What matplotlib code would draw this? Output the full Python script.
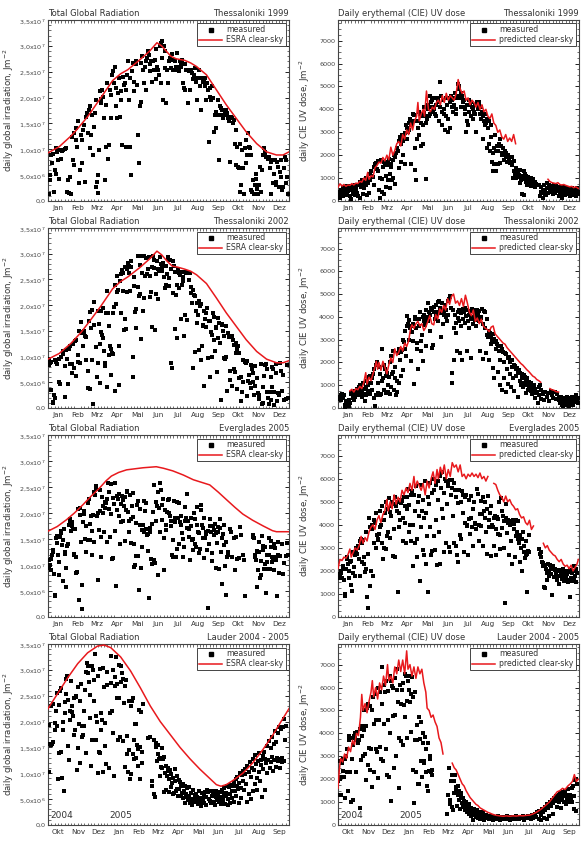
import numpy as np
import matplotlib
matplotlib.use("Agg")
import matplotlib.pyplot as plt
from matplotlib.lines import Line2D
from matplotlib.ticker import MultipleLocator, FixedLocator

plt.rcParams['font.family'] = ['DejaVu Sans']

# ---------------- month axes ----------------
months_cal = ['Jan', 'Feb', 'Mrz', 'Apr', 'Mai', 'Jun', 'Jul', 'Aug', 'Sep', 'Okt', 'Nov', 'Dez']
month_starts_cal = [0, 31, 59, 90, 120, 151, 181, 212, 243, 273, 304, 334, 365]
months_lauder = ['Okt', 'Nov', 'Dez', 'Jan', 'Feb', 'Mrz', 'Apr', 'Mai', 'Jun', 'Jul', 'Aug', 'Sep']
month_starts_lauder = [0, 31, 61, 92, 123, 151, 182, 212, 243, 273, 304, 335, 365]

# ---------------- Thessaloniki 1999, global (1e6 J/m2) ----------------
glob_ths99_meas = [
(1.5,1.4),(2.5,5.0),(3.5,4.0),(5,8.9),(6.5,7.3),(7.6,9.1),(9,1.7),(10,6.0),(11.6,5.3),(12.6,10.2),(13.6,9.5),(15,7.9),(16.7,4.3),(17.7,9.8),(19,8.2),(21,9.7),(22.7,9.8),(25,10.0),(27.8,10.2),
(29,1.7),(30,4.0),(31.8,1.6),(33.8,4.7),(35,1.4),(37,12.4),(38,7.9),(39,13.2),(40,6.9),(42,11.8),(43,14.1),(44.4,10.5),(46,15.4),(47,3.4),(48,6.0),(49.5,12.8),(51,11.8),(52,7.3),(53,13.7),(54.5,14.7),(55.5,3.7),
(58,16.3),(59.6,17.0),(60.6,13.1),(62,17.6),(63,18.4),(64,10.2),(65.7,12.8),(67,16.7),(68,8.9),(69.7,14.4),(70.7,17.0),(72.2,19.6),(73.2,2.7),(74,3.7),(75,5.0),(75.8,1.6),(77,9.8),(78,21.2),(79.8,18.9),(80.8,19.7),(82.3,21.5),(83,20.2),(84.8,16.0),(85.8,4.0),(87.4,10.5),(88.4,18.6),(89.4,22.8),(91,8.2),
(92.4,10.8),(93.4,21.5),(95,20.5),(96,16.0),(97.5,24.4),(98.5,25.1),(100,22.8),(101,26.0),(102.5,21.8),(103.5,18.3),(104.5,16.0),(106,20.9),(107,23.8),(108.6,16.3),(110,19.6),(111,21.2),(112.6,10.8),(113.6,24.0),(114.6,22.5),(116,22.8),(117.7,10.5),(118.7,21.5),(120,24.4),(121,27.0),
(122.7,19.6),(124,10.5),(124.7,23.8),(126,5.0),(127,25.1),(128.8,26.7),(130,21.2),(131,23.1),(132.8,26.4),(133.8,27.0),(135,22.5),(136.4,12.8),(138,7.3),(139,18.3),(140.4,19.2),(141.4,26.7),(143,28.0),(144,25.4),(145,22.8),(146.5,26.0),(148,21.5),(149,27.0),(150,27.7),(151.5,29.0),(153,28.3),(154,26.4),(155,25.1),(156.6,27.0),
(158,23.1),(159,27.0),(160,25.4),(161.6,27.3),(163,23.5),(164,29.3),(165,26.0),(166.6,25.4),(168,24.4),(169,29.9),(170.7,22.8),(171.7,30.6),(172.7,30.9),(173.2,27.7),(174,19.6),(175,29.9),(176.8,25.7),(177.8,29.0),(179,18.9),(180.8,25.4),(182,22.8),(183.3,27.0),(184.3,27.7),
(186,25.7),(187,27.3),(188.4,28.5),(189.4,25.4),(191,27.3),(192,27.0),(193.4,25.4),(194.4,26.0),(196,28.6),(197,26.0),(198.5,25.1),(199.5,27.0),(201,26.0),(202,26.7),(203.5,27.3),(204.5,22.8),(205.5,21.8),(207,21.5),(208,26.4),(209.6,25.4),(210.6,25.4),(212,18.9),(213.6,25.1),(214.6,21.5),(216,25.4),
(217,25.1),(218.7,24.8),(219.7,23.5),(221,24.4),(222,25.7),(223.7,23.8),(224.7,23.1),(225.7,19.6),(227,23.8),(228,25.4),(229.8,23.8),(230.8,22.2),(232.3,17.6),(233.8,23.8),(234.8,23.1),(235.8,23.5),(237.4,23.8),(238.4,22.2),(240,19.6),(241,22.8),(242.4,21.5),(243.4,11.5),(245,21.8),(246,20.2),
(247.5,19.6),(248.5,22.2),(250,19.9),(251.5,13.4),(252.5,16.7),(254,17.3),(255,14.1),(256.5,16.7),(257.5,19.6),(258.6,7.9),(260,18.3),(261,16.7),(262.6,17.9),(263.6,17.6),(265,16.0),(266,16.7),(267.7,17.3),(269,17.6),(270,16.7),(271,17.0),(272.7,16.0),(273.7,15.4),(275,16.3),
(276,7.6),(277.8,16.3),(278.8,16.0),(280,15.0),(281.8,15.7),(282.8,11.1),(284.3,13.7),(285.3,6.9),(286.3,10.5),(288,6.6),(289,6.3),(290.4,1.7),(291.4,11.1),(292.9,3.0),(294,9.8),(295.4,6.3),(297,1.4),(298,10.2),(299.5,7.3),(300.5,11.8),(302,8.9),(303,13.1),(304.5,10.5),(305.5,10.2),
(307,8.9),(308,2.1),(309.6,1.7),(310.6,4.0),(311.6,1.4),(313,3.0),(314.6,5.3),(315.6,4.3),(317,2.4),(318,1.4),(319.7,3.0),(320.7,6.6),(322,1.7),(323.7,6.0),(325.7,8.9),(327,10.2),(328,9.5),(329,9.2),(330.8,8.6),(332,8.6),(333,8.2),(334.8,8.6),
(335.8,6.3),(337,1.4),(338,7.6),(340,7.9),(341,3.4),(342.4,5.3),(343.4,7.9),(345,3.0),(346,3.7),(347,7.6),(348.5,6.6),(350,2.7),(351,5.6),(352.5,7.9),(353.5,4.7),(355,2.1),(356,2.7),(357.5,6.3),(358.6,8.6),(360,3.4),(361,7.9),(362.6,4.7),(363.6,1.4)]
glob_ths99_clear = [(0,9.3),(17,10.5),(35,12.6),(43,13.7),(60,16.3),(78,19.6),(98,23.3),(110,24.6),(121,25.4),(139,27.3),(154,29.0),(165,30.6),(172,30.0),(179,29.0),(186,28.0),(194,27.5),(207,27.2),(216,26.7),(225,26.0),(240,24.4),(255,21.5),(270,18.6),(285,16.0),(300,13.4),(316,11.1),(331,9.5),(346,8.9),(356,8.9),(365,9.5)]

# ---------------- Thessaloniki 2002, global (1e6 J/m2) ----------------
glob_ths02_meas = [
(1,8.3),(2,9.5),(3,8.7),(4,9.0),(5,3.5),(7,1.2),(8,1.0),(9,2.5),(10,2.0),(11,9.3),(12,9.0),(14,8.6),(16,9.6),(17,5.0),(18,4.7),(20,10.0),(22,11.0),(23,10.5),(25,2.2),(26,8.2),(27,11.2),(29,9.5),(30,4.6),
(32,11.5),(33,8.5),(34,12.0),(36,8.5),(37,6.8),(38,12.5),(40,7.7),(41,13.0),(42,6.3),(43,13.2),(45,10.4),(46,9.0),(47,15.0),(48,8.7),(50,16.8),(51,14.6),(52,14.8),(53,12.0),(54,14.5),(55,15.0),(56,14.0),(57,13.8),(58,9.3),
(60,7.2),(61,3.9),(62,17.0),(63,18.6),(64,3.7),(65,15.6),(66,9.3),(67,19.0),(68,0.7),(69,16.2),(70,20.7),(72,11.8),(74,6.0),(75,8.8),(76,18.8),(77,16.4),(78,12.5),(79,4.9),(80,14.8),(81,18.9),(82,14.2),(83,13.7),(84,19.4),(85,11.0),(86,8.7),(87,8.2),(88,18.5),(89,4.0),(90,22.8),
(91,18.5),(92,10.3),(93,16.0),(94,12.0),(95,11.5),(96,6.5),(97,10.7),(98,18.4),(99,10.5),(100,19.6),(101,24.0),(102,3.4),(103,20.3),(104,22.5),(105,25.6),(106,23.0),(107,4.5),(108,12.0),(109,24.6),(110,26.0),(111,18.5),(112,26.8),(113,26.2),(114,22.7),(115,15.2),(116,27.5),(117,17.3),(118,15.4),(119,27.0),(120,22.5),
(121,28.1),(122,27.7),(123,26.3),(124,22.7),(125,28.6),(126,27.5),(128,10.0),(129,6.0),(130,25.4),(131,23.8),(132,18.7),(133,19.2),(134,15.6),(136,29.5),(137,23.6),(138,21.7),(139,22.1),(140,27.8),(141,13.5),(142,29.6),(143,26.3),(144,18.9),(145,29.5),(146,21.3),(147,25.6),(148,29.2),(150,26.0),
(152,27.0),(153,29.3),(154,21.5),(155,25.7),(156,22.6),(157,27.5),(158,15.8),(159,29.5),(160,28.8),(161,27.2),(162,15.1),(163,26.0),(164,22.2),(165,28.6),(166,27.0),(167,21.2),(168,26.6),(170,29.3),(171,28.0),(172,27.4),(173,26.6),(174,28.1),(176,25.4),(177,23.4),(178,27.6),(179,24.0),(180,26.0),(181,29.3),
(182,29.0),(183,25.2),(184,23.7),(185,28.7),(186,27.0),(187,8.8),(188,7.8),(189,22.3),(190,28.6),(191,27.6),(192,26.5),(193,15.3),(194,22.0),(195,13.6),(196,24.0),(197,27.0),(198,23.3),(199,26.2),(200,25.9),(201,17.4),(202,26.5),(203,24.0),(204,25.4),(205,24.6),(206,14.0),(207,26.4),(208,18.0),(209,26.2),(210,26.5),(211,17.1),
(213,26.2),(214,24.9),(215,26.3),(216,22.3),(217,23.5),(218,20.5),(219,7.8),(220,23.0),(221,22.0),(222,10.9),(223,21.8),(224,18.8),(225,20.4),(226,16.6),(227,18.0),(228,11.3),(229,20.8),(230,19.8),(231,9.3),(232,20.3),(233,12.0),(234,16.2),(235,15.9),(236,18.9),(237,4.2),(238,17.4),(239,18.4),(240,15.8),(241,19.5),(242,9.8),
(244,17.0),(245,6.0),(246,16.9),(247,14.8),(248,10.0),(249,14.2),(250,18.5),(251,17.7),(252,13.2),(253,11.1),(254,15.8),(255,15.5),(256,7.0),(257,17.5),(258,13.7),(259,16.5),(260,12.6),(262,1.5),(263,16.3),(264,16.2),(265,15.0),(266,9.8),(267,14.0),(268,9.5),(269,16.0),(270,10.0),(271,3.3),(272,14.6),
(274,13.9),(275,5.4),(276,7.2),(277,13.8),(278,4.3),(279,14.0),(280,13.3),(281,7.5),(282,12.2),(283,7.0),(284,12.6),(285,10.7),(286,11.5),(287,3.7),(288,12.0),(289,10.6),(290,5.8),(292,6.0),(293,1.4),(294,3.2),(295,9.3),(296,5.0),(298,9.0),(300,8.8),(301,2.3),(302,9.1),(303,5.2),
(305,6.5),(306,4.8),(307,3.9),(308,8.4),(309,7.5),(310,6.9),(311,5.0),(312,2.5),(313,4.2),(314,8.2),(316,5.8),(318,3.0),(319,1.7),(320,2.6),(322,8.5),(324,0.7),(325,1.0),(326,4.0),(327,6.3),(328,8.3),(330,8.6),(331,7.5),(332,3.2),(333,2.0),
(335,0.8),(336,3.1),(337,1.5),(338,6.0),(339,4.1),(340,8.0),(341,7.6),(342,0.5),(343,3.2),(345,8.6),(346,6.9),(347,1.4),(348,3.0),(350,2.5),(352,8.8),(353,7.2),(355,3.3),(356,6.5),(358,1.5),(360,1.8),(362,8.4),(364,2.0)]
glob_ths02_clear = [(0,9.5),(17,10.6),(35,12.6),(50,14.7),(65,17.2),(80,19.8),(98,23.2),(110,24.6),(121,25.5),(139,27.3),(154,29.0),(165,30.5),(172,29.8),(180,28.6),(188,27.6),(196,27.4),(207,27.0),(216,26.6),(225,25.9),(240,24.2),(255,21.4),(270,18.5),(285,15.9),(300,13.3),(316,11.0),(331,9.5),(346,8.8),(356,8.8),(365,9.2)]

# ---------------- Everglades 2005, global (1e6 J/m2) ----------------
glob_evg05_meas = [
(1,9.5),(2,11.0),(3,10.0),(4,9.0),(5,11.2),(6,12.0),(7,12.8),(8,12.5),(9,8.2),(10,4.3),(11,4.1),(12,15.2),(13,14.3),(14,15.6),(15,12.0),(16,10.5),(17,8.0),(18,15.3),(19,16.2),(20,16.6),(21,13.8),(22,7.0),(23,14.8),(24,17.0),(25,12.5),(26,12.2),(27,9.5),(28,5.8),(29,13.6),(30,14.0),
(32,17.6),(33,18.8),(34,18.3),(35,16.5),(36,17.5),(37,18.2),(38,17.0),(39,12.0),(40,12.2),(41,16.9),(42,11.6),(43,8.5),(44,8.6),(45,20.7),(46,20.8),(47,3.3),(48,19.6),(49,21.0),(50,14.5),(51,6.2),(52,1.5),(53,18.3),(54,19.9),(55,20.4),(56,15.0),(57,17.5),(58,12.5),
(60,14.9),(61,21.9),(62,22.6),(63,14.9),(64,17.9),(65,19.5),(66,16.5),(67,11.9),(68,19.7),(69,24.0),(70,14.5),(71,23.4),(72,24.7),(73,25.2),(74,19.4),(75,7.2),(76,20.0),(77,16.8),(78,20.4),(79,24.4),(80,15.4),(81,11.6),(82,23.1),(83,21.4),(84,20.0),(85,16.4),(86,20.9),(87,22.2),(88,21.9),(89,14.5),(90,22.7),
(91,25.8),(92,20.7),(93,24.1),(94,15.4),(95,19.9),(96,25.6),(97,11.1),(98,11.4),(99,22.9),(100,21.7),(101,25.8),(102,16.6),(103,6.0),(104,20.5),(105,23.3),(106,22.6),(107,19.4),(108,23.6),(109,14.0),(110,18.3),(111,21.8),(112,23.3),(113,22.5),(114,18.4),(115,21.4),(116,23.0),(117,14.7),(118,20.6),(119,24.3),(120,24.0),
(121,20.1),(122,18.5),(123,16.4),(124,23.5),(125,14.2),(126,18.8),(127,21.3),(128,23.8),(129,19.2),(130,9.6),(131,14.0),(132,10.0),(133,11.8),(134,18.1),(135,21.6),(136,22.3),(137,11.8),(138,5.2),(139,17.6),(140,20.8),(141,9.4),(142,16.8),(143,13.5),(144,17.7),(145,22.4),(146,16.4),(147,20.3),(148,22.0),(149,17.0),(150,15.7),
(151,15.9),(152,12.6),(153,3.6),(154,17.2),(155,16.3),(156,11.1),(157,10.2),(158,17.8),(159,20.1),(160,11.0),(161,25.3),(162,10.3),(163,18.4),(164,22.2),(165,21.4),(166,8.0),(167,24.0),(168,20.9),(169,16.3),(170,25.7),(171,24.4),(172,21.5),(173,18.6),(174,22.6),(175,9.0),(176,15.2),(177,20.5),(178,16.8),(179,17.6),(180,20.1),
(182,22.5),(183,22.6),(184,20.0),(185,19.4),(186,17.5),(187,18.4),(188,12.0),(189,11.5),(190,14.8),(191,22.3),(192,19.0),(193,18.2),(194,11.5),(195,22.2),(196,13.0),(197,19.1),(198,14.0),(199,21.9),(200,18.2),(201,19.5),(202,17.6),(203,16.2),(204,15.0),(205,11.5),(206,13.5),(207,18.5),(208,21.2),(209,19.0),(210,17.2),(211,23.7),
(212,18.5),(213,15.4),(214,16.9),(215,11.0),(216,19.0),(217,17.5),(218,14.8),(219,15.0),(220,12.8),(221,20.0),(222,18.8),(223,14.0),(224,13.5),(225,17.7),(226,21.2),(227,16.4),(228,16.1),(229,12.4),(230,13.0),(231,20.6),(232,21.6),(233,17.7),(234,17.2),(235,15.1),(236,11.3),(237,19.0),(238,15.2),(239,16.0),(240,16.4),(241,12.8),
(242,1.8),(243,16.5),(244,14.1),(245,18.9),(246,17.5),(247,16.4),(248,10.8),(249,12.4),(250,17.5),(251,15.7),(252,16.8),(253,17.8),(254,9.4),(255,16.1),(256,14.2),(257,17.3),(258,16.3),(259,9.2),(260,18.8),(261,17.1),(262,12.5),(263,6.3),(264,15.1),(265,16.0),(266,13.8),(267,17.6),(268,9.8),(269,14.5),(270,4.2),(271,11.5),(272,11.9),
(273,12.5),(275,17.0),(277,16.4),(279,11.5),(281,15.1),(283,9.0),(285,15.3),(287,11.1),(289,11.4),(291,17.3),(293,15.7),(295,12.0),(297,11.0),(299,4.1),
(310,15.8),(311,15.4),(312,15.2),(313,11.6),(314,12.0),(315,11.0),(316,5.8),(317,12.7),(318,9.1),(319,12.5),(320,14.5),(321,7.5),(322,8.0),(323,10.8),(324,15.5),(325,12.8),(326,13.7),(327,9.3),(328,10.2),(329,13.5),(330,4.6),(331,12.0),(332,10.5),(333,9.3),(334,15.2),(335,11.9),(336,9.3),(337,14.6),(338,13.4),(339,11.5),(340,10.5),(341,11.2),(342,14.1),(343,9.0),(344,13.3),(345,11.0),(346,11.5),(347,4.0),(348,14.5),(349,12.0),(350,8.5),(352,11.8),(354,14.0),(356,8.3),(358,10.3),(360,11.8),(362,14.2),(364,11.9)]
glob_evg05_clear = [(0,16.5),(14,17.4),(28,18.7),(40,20.0),(53,21.6),(65,23.2),(78,24.8),(88,26.2),(96,27.1),(107,27.8),(119,28.3),(144,28.7),(164,28.9),(175,28.6),(189,28.1),(205,27.3),(220,26.4),(235,25.8),(245,25.4),(258,24.0),(270,22.6),(283,21.1),(295,19.8),(310,18.6),(326,17.5),(340,16.6),(346,16.4),(365,16.4)]

# ---------------- Lauder 2004-2005, global (1e6 J/m2), day 0 = 1 Oct 2004 ----------------
glob_lau_meas = [
(1,19.3),(2,10.3),(3,15.7),(4,15.4),(5,23.0),(6,15.6),(7,23.4),(8,16.0),(10,19.7),(11,18.3),(12,22.0),(13,19.2),(14,25.5),(15,8.9),(16,23.3),(17,13.9),(18,26.0),(19,26.5),(20,14.2),(21,9.0),(22,18.3),(23,20.0),(24,6.5),(25,21.7),(26,23.8),(27,25.3),(28,28.3),(29,28.8),(30,24.2),
(31,15.2),(32,12.5),(33,22.0),(34,20.4),(35,27.8),(36,21.8),(37,23.0),(38,21.0),(39,24.5),(40,17.5),(41,18.3),(42,24.8),(43,25.0),(44,10.7),(45,14.8),(46,26.6),(47,19.5),(48,12.0),(49,24.0),(50,27.2),(51,17.0),(52,19.2),(53,17.5),(54,22.0),(55,19.1),(56,26.1),(57,29.5),(58,14.0),(59,31.4),(60,30.8),
(61,29.4),(62,27.6),(63,20.7),(64,25.2),(65,11.5),(66,30.7),(67,16.5),(68,30.0),(69,23.9),(70,28.0),(71,33.0),(72,21.0),(73,16.5),(74,19.9),(75,28.9),(76,10.0),(77,14.2),(78,14.0),(79,30.1),(80,18.3),(81,21.6),(82,20.4),(83,10.2),(84,30.3),(85,26.7),(86,15.3),(87,19.8),(88,11.7),(89,27.0),(90,29.5),
(93,11.1),(94,21.7),(95,27.5),(96,32.7),(97,22.1),(98,29.9),(99,17.8),(100,9.4),(101,28.6),(102,26.8),(103,32.4),(104,24.5),(105,27.3),(106,16.5),(107,31.0),(108,24.5),(109,17.0),(110,27.6),(111,30.7),(112,29.3),(113,16.2),(114,28.2),(115,23.6),(116,11.2),(117,26.8),(118,28.1),(119,17.3),(120,13.7),(121,10.2),(122,24.0),
(123,14.5),(124,8.8),(125,23.0),(126,9.8),(127,23.9),(128,13.8),(129,24.5),(130,16.4),(131,12.7),(132,19.6),(133,19.5),(134,13.0),(135,15.5),(136,11.5),(137,14.6),(138,22.2),(139,8.9),(140,15.0),(141,21.8),(142,12.0),(143,14.2),(144,23.4),
(152,16.9),(155,17.0),(157,8.5),(158,7.6),(160,16.4),(161,5.9),(162,5.4),(163,15.9),(164,15.0),(165,12.3),(166,15.5),(167,13.7),(168,12.7),(169,9.4),(170,13.0),(171,11.2),(172,14.9),(173,11.0),(174,12.7),(175,6.4),(176,13.2),(177,10.0),(178,6.7),(179,11.5),(180,9.5),(181,11.0),
(182,10.5),(183,8.8),(184,6.3),(185,10.7),(186,7.4),(187,9.9),(188,8.1),(189,5.9),(190,9.0),(191,6.2),(192,8.5),(193,10.8),(194,6.5),(195,9.4),(196,6.9),(197,5.7),(198,8.7),(199,7.0),(200,8.4),(201,5.6),(202,7.5),(203,6.1),(204,5.2),(205,8.0),(206,6.6),(207,7.6),(208,4.3),(209,6.0),(210,7.2),(211,5.5),
(212,4.9),(213,7.3),(214,5.6),(215,4.2),(216,6.2),(217,5.0),(218,3.8),(219,6.7),(220,5.1),(221,4.4),(222,5.8),(223,4.8),(224,6.0),(225,4.6),(226,5.4),(227,4.0),(228,6.5),(229,5.2),(230,4.5),(231,5.0),(232,3.7),(233,6.1),(234,5.3),(235,4.7),(236,5.9),(237,4.2),(238,6.3),(239,5.5),(240,3.9),(241,6.8),
(243,6.4),(244,5.1),(245,4.6),(246,6.6),(247,4.3),(248,5.7),(249,6.5),(250,5.8),(251,4.5),(252,6.2),(253,3.8),(254,5.4),(255,6.6),(256,4.9),(257,6.0),(258,5.2),(259,4.4),(260,5.5),(261,6.4),(262,4.1),(263,5.3),(264,6.8),(265,4.8),(266,5.9),(267,7.2),(268,4.0),(269,5.6),(270,6.2),(271,7.5),(272,3.9),
(273,5.0),(274,7.3),(275,6.0),(276,4.3),(277,7.8),(278,6.5),(279,5.2),(280,7.6),(281,8.3),(282,4.4),(283,6.6),(284,8.9),(285,5.7),(286,7.5),(287,9.3),(288,6.9),(289,4.2),(290,8.2),(291,10.1),(292,7.1),(293,5.3),(294,9.7),(295,8.6),(296,10.5),(297,6.8),(298,9.9),(299,10.8),(300,8.0),(301,11.4),(302,4.4),
(304,6.0),(305,10.2),(306,12.2),(307,5.0),(308,9.3),(309,11.0),(310,6.5),(311,12.8),(312,10.6),(313,8.0),(314,13.6),(315,11.8),(316,6.7),(317,9.0),(318,12.3),(319,13.9),(320,10.3),(321,8.5),(322,11.6),(323,12.5),(324,5.5),(325,13.4),(326,10.9),(327,14.1),(328,12.8),(329,6.8),(330,12.0),(331,10.1),(332,15.3),(333,12.6),
(335,16.2),(336,11.0),(337,14.8),(338,12.2),(339,17.0),(340,13.2),(341,10.5),(342,15.6),(343,12.5),(344,18.1),(345,11.3),(346,16.0),(347,13.0),(348,12.4),(349,17.8),(350,19.0),(351,12.8),(352,11.0),(353,18.6),(354,12.2),(355,13.0),(356,18.9),(357,20.5),(358,12.3),(359,16.5),(360,19.1)]
glob_lau_clear = [(0,22.5),(15,25.5),(30,28.5),(45,31.2),(60,33.3),(75,34.6),(85,34.8),(95,34.3),(110,32.5),(125,29.8),(140,26.5),(155,23.0),(170,20.0),(185,17.5),(200,15.0),(215,12.8),(230,10.8),(245,9.0),(255,7.8),(262,7.5),(270,7.8),(280,8.6),(295,10.0),(310,12.0),(325,14.5),(340,17.3),(352,19.8),(365,22.5)]

# ---------------- UV, Thessaloniki 1999 (J/m2) ----------------
uv_ths99_meas = [
(1,250),(2,400),(3,150),(4,350),(5,480),(6,300),(7,200),(8,550),(9,400),(10,600),(11,350),(12,500),(13,280),(14,650),(15,450),(16,550),(17,600),(18,200),(19,100),(20,650),(21,500),(22,400),(23,300),(24,550),(25,700),(26,250),(27,500),(28,600),(29,350),
(31,200),(32,700),(33,850),(34,150),(35,600),(36,750),(37,900),(38,300),(39,800),(40,550),(41,850),(42,700),(43,1000),(44,250),(45,800),(46,850),(47,350),(48,1200),(49,900),(50,1300),(52,1100),(53,1050),(54,700),(55,1500),(56,1600),(57,1650),
(59,1400),(60,1750),(61,1300),(62,500),(63,1000),(64,150),(65,1800),(66,950),(67,400),(68,1500),(69,300),(70,1700),(71,1600),(72,1100),(73,600),(74,1550),(75,900),(76,1700),(77,1850),(78,550),(79,1200),(80,1500),(81,1600),(82,900),(83,1000),(84,1800),(85,2000),(86,750),(87,1900),(88,2100),
(90,2300),(91,2200),(92,1450),(93,2600),(94,2800),(95,1700),(96,2500),(97,2900),(98,2600),(99,2000),(100,2800),(101,1600),(102,2950),(103,3300),(104,3200),(105,2700),(106,3000),(107,3400),(108,3100),(109,3600),(110,3300),(111,1600),(112,3400),(113,3800),(114,3500),(115,3750),(116,2300),(117,1350),(118,900),(119,2700),
(120,3500),(121,3200),(122,3900),(123,2900),(124,3800),(125,3400),(126,2400),(127,3700),(128,3300),(129,2500),(130,3850),(131,4100),(132,3700),(133,950),(134,3400),(135,3600),(136,4200),(137,4000),(138,3700),(139,4600),(140,3800),(141,4300),(142,4100),(143,4400),(144,3900),(145,4500),(146,4000),(147,3800),(148,4200),(149,3700),(150,4500),
(151,4300),(152,4400),(153,3500),(154,5200),(155,4100),(156,4600),(157,3900),(158,3300),(159,4400),(160,4000),(161,3800),(162,3100),(163,4500),(164,3700),(165,4200),(166,3600),(167,3000),(168,4500),(169,4300),(170,3200),(171,4600),(172,4400),(173,4100),(174,3900),(175,4500),(176,4200),(177,4700),(178,4000),(179,3800),(180,4500),
(181,5100),(182,4600),(183,5000),(184,4900),(185,4500),(186,4100),(187,4700),(188,4600),(189,4300),(190,4100),(191,4400),(192,3800),(193,4000),(194,3000),(195,4200),(196,3500),(197,3300),(198,3900),(199,4400),(200,4200),(201,3700),(202,4300),(203,4100),(204,4000),(205,3600),(206,3900),(207,4200),(208,3800),(209,3000),(210,4300),
(212,4000),(213,4200),(214,4300),(215,3800),(216,4100),(217,3600),(218,3900),(219,3700),(220,2700),(221,3500),(222,3800),(223,3300),(224,3400),(225,2300),(226,3600),(227,3200),(228,3500),(229,2500),(230,2200),(231,2800),(232,3300),(233,1700),(234,1300),(235,2100),(236,1600),(237,2300),(238,2900),(239,2200),(240,1300),(241,2400),
(242,2200),(243,1600),(244,2500),(245,2700),(246,1650),(247,2400),(248,2100),(249,2000),(250,2300),(251,1800),(252,2050),(253,2200),(254,1900),(255,2100),(256,1700),(257,1950),(258,2000),(259,1800),(260,1900),(261,1650),(262,1700),(263,1900),(264,1550),(265,1000),(266,1750),(267,1300),(268,1200),(269,1450),(270,1000),(271,1250),
(272,1300),(273,1050),(274,1150),(275,800),(276,1350),(277,900),(278,1100),(279,300),(280,950),(281,250),(282,1300),(283,1200),(284,850),(285,1100),(286,1000),(287,700),(288,1050),(289,900),(290,800),(291,950),(292,650),(293,1000),(294,750),(295,850),(296,950),(297,700),(298,850),(299,600),(300,750),
(304,700),(306,200),(307,400),(308,600),(309,350),(310,150),(311,450),(312,700),(313,300),(314,500),(315,250),(316,800),(317,550),(318,350),(319,600),(320,700),(321,450),(322,400),(323,650),(324,550),(325,300),(326,600),(327,700),(328,500),(329,350),(330,650),(331,600),(332,450),
(334,550),(335,200),(336,400),(337,600),(338,300),(339,500),(340,150),(341,550),(342,350),(343,600),(344,250),(345,450),(346,500),(347,300),(348,550),(349,400),(350,350),(351,200),(352,500),(353,450),(354,300),(355,550),(356,400),(357,250),(358,500),(359,350),(360,450),(361,200),(362,550),(363,400),(364,300)]
uv_ths99_clear = [
(0,600),(3,750),(6,650),(9,720),(12,640),(15,700),(18,680),(21,760),(24,700),(27,780),(30,760),(33,860),(36,820),(39,1000),(42,900),(45,1250),(47,950),(50,1100),(53,1050),(56,1450),(59,1550),(62,1700),(65,1650),(68,1900),(71,1750),(74,2000),(77,1800),(80,2350),(83,2000),(86,2200),(89,2500),(92,2600),(95,2400),(98,2900),(101,2700),(104,3100),(107,2900),(110,3400),(113,3100),(116,3500),(119,3700),(121,4300),(123,3500),(126,3800),(129,4000),(131,3700),(134,4800),(137,4000),(140,3900),(143,4100),(146,4000),(149,4300),(152,4400),(155,4200),(158,4600),(161,4300),(164,4700),(167,4400),(170,4600),(173,4500),(176,4400),(179,4700),(182,5300),(185,4900),(188,4700),(191,4800),(194,4400),(197,4500),(200,4200),(203,4400),(206,4300),(209,4100),(212,4300),(215,4000),(218,4200),(221,3900),(224,4000),(227,3700),(230,3600),(233,3800),(236,3400),(239,3300),(242,3000),(245,3100),(248,2800),(251,2700),(254,2900),(257,2600),(260,2750),(263,2600),(266,2900),(269,2500),
(270,np.nan),
(318,950),(321,850),(324,800),(327,780),(330,760),(333,800),(336,720),(339,700),(342,720),(345,680),(348,650),(351,620),(354,640),(357,580),(360,620),(364,550)]

# ---------------- UV, Thessaloniki 2002 (J/m2) ----------------
uv_ths02_meas = [
(1,400),(2,500),(3,450),(4,550),(5,350),(6,600),(7,500),(8,450),(9,550),(10,150),(11,50),(12,250),(13,100),(14,300),(15,200),(16,350),(17,100),(18,200),(19,650),(20,600),(21,700),(22,450),(23,650),(24,350),(25,750),(26,500),(27,700),(28,600),(29,850),(30,550),
(31,750),(32,900),(33,650),(34,1000),(35,800),(36,500),(37,700),(38,1100),(39,600),(40,850),(41,300),(42,900),(43,550),(44,1200),(45,750),(46,1000),(47,1350),(48,600),(49,1400),(50,1100),(51,1300),(52,800),(53,1500),(54,450),(55,1700),(56,100),(57,1900),(58,550),
(59,2000),(60,1100),(61,650),(62,1800),(63,1500),(64,550),(65,600),(66,1200),(67,2600),(68,1300),(69,800),(70,1900),(71,1700),(72,1400),(73,650),(74,1550),(75,700),(76,1000),(77,1350),(78,600),(79,2000),(80,900),(81,2300),(82,1500),(83,1600),(84,2500),(85,800),(86,1300),(87,1800),(88,550),
(89,1200),(90,700),(91,2400),(92,1100),(93,2600),(94,2100),(95,1400),(96,2450),(97,2550),(98,1650),(99,3000),(100,2900),(101,3400),(102,2600),(103,2300),(104,3600),(105,4050),(106,3700),(107,3850),(108,3000),(109,3500),(110,2050),(111,3600),(112,3350),(113,2950),(114,3700),(115,1050),(116,3900),(117,4000),(118,3500),
(119,2850),(120,2600),(121,1700),(122,3900),(123,3600),(124,4200),(125,2950),(126,2500),(127,3200),(128,4000),(129,2050),(130,3800),(131,4100),(132,3650),(133,4300),(134,2700),(135,4000),(136,3800),(137,4600),(138,4200),(139,4100),(140,3400),(141,4400),(142,2650),(143,4300),(144,2750),(145,4200),(146,4450),(147,3900),(148,4100),
(149,4500),(150,4200),(151,4650),(152,3800),(153,4700),(154,4150),(155,4400),(156,3100),(157,4300),(158,4600),(159,3700),(160,4200),(161,4100),(162,4500),(163,4000),(164,4300),(165,3800),(166,4700),(167,4100),(168,4800),(169,4900),(170,4850),(171,4400),(172,1550),(173,1100),(174,4300),(175,3500),(176,2100),(177,4100),(178,3750),(179,3300),(180,2500),
(181,4200),(182,3950),(183,4300),(184,3800),(185,2400),(186,4150),(187,3600),(188,2100),(189,4350),(190,3900),(191,4200),(192,3750),(193,4400),(194,4050),(195,2500),(196,4300),(197,3800),(198,4100),(199,3500),(200,4250),(201,3900),(202,2200),(203,4350),(204,4000),(205,3700),(206,4300),(207,3850),(208,4150),(209,3600),(210,4000),
(211,4300),(212,4100),(213,3800),(214,4250),(215,2500),(216,4000),(217,3950),(218,4350),(219,3700),(220,2150),(221,4250),(222,3500),(223,4200),(224,2400),(225,3900),(226,3200),(227,3100),(228,3400),(229,2100),(230,3300),(231,3150),(232,2800),(233,3000),(234,3250),(235,1750),(236,3050),(237,1300),(238,2900),(239,2950),(240,2600),
(241,2800),(242,1600),(243,2700),(244,2500),(245,1000),(246,2100),(247,2700),(248,800),(249,2600),(250,2450),(251,2000),(252,1300),(253,2400),(254,700),(255,2350),(256,1700),(257,2200),(258,1050),(259,2250),(260,1500),(261,2000),(262,900),(263,2100),(264,1800),(265,1300),(266,1900),(267,750),(268,1850),(269,1700),(270,1400),
(271,1750),(272,500),(273,1600),(274,1650),(275,1200),(276,1550),(277,1000),(278,1500),(279,1300),(280,900),(281,1450),(282,1100),(283,1350),(284,650),(285,1200),(286,1000),(287,1300),(288,800),(289,1150),(290,900),(291,1050),(292,750),(293,1100),(294,600),(295,950),(296,800),(297,1000),(298,450),(299,850),(300,650),
(302,700),(303,200),(304,900),(305,550),(306,1000),(307,400),(308,800),(310,600),(312,350),(314,700),(316,500),(318,650),(320,300),(322,750),(324,550),(326,450),(328,700),(330,400),(332,600),
(334,350),(335,450),(336,200),(337,500),(338,300),(339,150),(340,400),(341,100),(342,350),(343,250),(344,450),(345,150),(346,300),(347,500),(348,200),(349,400),(350,100),(351,350),(352,450),(353,250),(354,300),(355,500),(356,150),(357,400),(358,300),(359,450),(360,250),(361,550),(362,350),(363,200),(364,450)]
uv_ths02_clear = [
(18,750),(21,820),(24,700),(27,850),(30,800),(33,950),(36,850),(39,1100),(42,1550),(44,1050),(47,1350),(50,1200),(53,1500),(56,1800),(58,2050),(60,1700),(62,2000),(65,1650),(68,2050),(71,1800),(74,1500),(77,1900),(80,2200),(83,2000),(86,2600),(89,2300),(92,2450),(95,2700),(98,2500),(101,2850),(104,2700),(107,2950),(110,3500),(112,3650),(115,3500),(118,3700),(121,3800),(124,3600),(127,3700),(130,3400),(133,3550),(136,3800),(139,4050),(142,3700),(145,3650),(148,4100),(151,3900),(154,4350),(157,4200),(160,4500),(163,4300),(166,4800),(169,4550),(172,4900),(175,5000),(178,4600),(181,4700),(184,4500),(187,4800),(190,4450),(193,4950),(196,4600),(199,4200),(202,4050),(205,4300),(208,3800),(211,3950),(214,3700),(217,3900),(220,3600),(223,3500),(226,3450),(229,3350),(232,3550),(235,3600),(238,3250),(241,3150),(244,3050),(247,2950),(250,2850),(253,2800),(256,2650),(259,2550),(262,2450),(265,2350),(268,2250),(271,2150),(274,2050),(277,1950),(280,1880),(283,1780),(286,1680),(289,1600),(292,1500),(295,1400),(298,1350),(301,1250),(304,1200),(307,1130),
(310,np.nan),
(321,850),(324,800),(327,780),(330,720),(334,700)]

# ---------------- UV, Everglades 2005 (J/m2) ----------------
uv_evg05_meas = [
(1,1700),(2,1850),(3,1750),(4,2000),(5,1900),(6,1700),(7,2100),(8,2200),(9,1600),(10,1000),(11,900),(12,2100),(13,2500),(14,2600),(15,2300),(16,1700),(17,2000),(18,2400),(19,1400),(20,2450),(21,1150),(22,1900),(23,2800),(24,2150),(25,2700),(26,1800),(27,2900),(28,3000),(29,2750),(30,3100),
(31,3000),(32,2500),(33,3300),(34,1800),(35,3400),(36,2400),(37,3200),(38,3350),(39,2300),(40,2600),(41,1950),(42,2100),(43,3700),(44,850),(45,2750),(46,400),(47,4300),(48,1350),(49,3900),(50,2000),(51,4000),(52,3800),(53,1800),(54,3200),(55,4200),(56,4100),(57,3000),(58,4500),(59,3550),
(60,3400),(61,3350),(62,3600),(63,4600),(64,3900),(65,4000),(66,3200),(67,4800),(68,2500),(69,4200),(70,3000),(71,4500),(72,2950),(73,5000),(74,3500),(75,4700),(76,3700),(77,5150),(78,3450),(79,4550),(80,4400),(81,4800),(82,5000),(83,2650),(84,4900),(85,3800),(86,5200),(87,2600),(88,4800),(89,5000),(90,4600),
(91,1100),(92,3900),(93,4500),(94,4200),(95,4950),(96,5100),(97,5050),(98,3300),(99,4300),(100,5200),(101,4100),(102,4800),(103,3200),(104,4700),(105,5200),(106,5550),(107,3700),(108,4850),(109,4000),(110,3300),(111,5300),(112,5450),(113,2200),(114,4000),(115,5300),(116,3200),(117,4600),(118,5700),(119,3400),(120,2600),
(121,5000),(122,4400),(123,5250),(124,1550),(125,3900),(126,5750),(127,4600),(128,2900),(129,5100),(130,2700),(131,4300),(132,5900),(133,4500),(134,2300),(135,3500),(136,5200),(137,1100),(138,4900),(139,3900),(140,5800),(141,2700),(142,5400),(143,2850),(144,6000),(145,3500),(146,5500),(147,2900),(148,5750),(149,4200),(150,2250),
(151,5900),(152,5100),(153,3700),(154,6100),(155,2300),(156,5600),(157,4700),(158,6300),(159,4300),(160,5400),(161,2800),(162,6000),(163,3200),(164,5900),(165,4900),(166,5700),(167,5800),(168,3050),(169,5950),(170,2800),(171,5300),(172,5600),(173,5950),(174,4400),(175,5800),(176,3200),(177,5500),(178,3100),(179,5200),(180,2700),
(181,4950),(182,2400),(183,5500),(184,5500),(185,3550),(186,5000),(187,3400),(188,5450),(189,4500),(190,5300),(191,2800),(192,5200),(193,4100),(194,5300),(195,4000),(196,3950),(197,2700),(198,5100),(199,4250),(200,3600),(201,5250),(202,4300),(203,3900),(204,3100),(205,4700),(206,5000),(207,4050),(208,4100),(209,3800),(210,5550),
(212,5350),(213,4000),(214,3300),(215,4450),(216,5050),(217,3950),(218,4450),(219,5200),(220,3100),(221,4600),(222,4300),(223,5000),(224,3700),(225,4700),(226,2750),(227,5250),(228,4200),(229,3900),(230,4500),(231,2650),(232,4800),(233,4000),(235,3900),(236,4300),(237,3100),(238,4400),(239,3800),(240,2700),(241,4350),(242,3600),
(243,4250),(244,5000),(245,3550),(246,2950),(247,5150),(248,3850),(249,4600),(250,4400),(251,3000),(252,4150),(253,600),(254,4300),(255,4900),(256,3650),(257,4200),(258,4100),(259,2700),(260,4000),(261,4150),(262,3300),(263,4100),(264,2300),(265,4200),(266,3800),(267,4050),(268,2600),(269,4200),(270,3500),(271,3700),
(272,4150),(273,3400),(274,3200),(275,2400),(276,3550),(277,3000),(278,2000),(279,3400),(280,3700),(281,2800),(282,3100),(283,2550),(284,3300),(285,2700),(286,1100),(287,2750),(288,2850),(289,3550),(290,2800),
(305,2950),(306,2750),(307,2600),(308,2800),(309,2400),(310,2200),(311,2350),(312,1300),(313,1250),(314,2250),(315,2100),(316,1900),(317,1600),(318,2300),(319,2000),(320,1800),(321,2250),(322,2150),(323,1850),(324,950),(325,2100),(326,2200),(327,1750),(328,2050),(329,2100),(330,1900),(331,1600),(332,1750),(333,2000),(334,2050),
(335,1450),(336,1800),(337,1900),(338,2000),(339,1700),(340,1650),(341,2100),(342,1800),(343,1550),(344,1900),(345,2000),(346,1700),(347,1850),(348,1500),(349,1950),(350,1600),(351,2050),(352,850),(353,1700),(354,1900),(355,1550),(356,2000),(357,2200),(358,1600),(359,1800),(360,1500),(361,2100),(362,1900)]
uv_evg05_clear = [
(0,2100),(3,2500),(6,2450),(9,2600),(12,2550),(15,2700),(18,2950),(20,2600),(23,2800),(26,3000),(29,2900),(32,3100),(35,3500),(38,3200),(41,3450),(44,3300),(47,3700),(50,3900),(53,4000),(56,3800),(59,4200),(62,4400),(65,4100),(68,4450),(71,4600),(74,5100),(76,4600),(79,5000),(82,4700),(85,5300),(88,4900),(91,5200),(94,5000),(97,5500),(100,5300),(103,5600),(106,5400),(109,5800),(112,5500),(115,6100),(117,5600),(120,5900),(123,5700),(126,5500),(129,5800),(132,5300),(135,5900),(138,5600),(141,6000),(144,6300),(147,5800),(150,6400),(152,6000),(155,6500),(158,6200),(161,6600),(164,6000),(167,6400),(170,6100),(173,6700),(176,6500),(179,6600),(182,6300),(185,6600),(188,6100),(191,6200),(194,6000),(197,6200),(200,6100),(203,6250),(206,6100),(209,6200),(212,6050),(215,6250),(218,6000),(221,6100),(224,5900),(227,6100),
(230,np.nan),
(236,5800),(239,5750),(242,5500),(245,5300),(248,5200),(251,5000),(254,5250),(257,5000),(260,5100),(263,4900),(266,4800),(269,4650),(272,4700),(275,4450),(278,4300),(281,4350),(284,4100),(287,4000),(290,4200),(293,3800),(296,3950),
(300,np.nan),
(311,3200),(314,3000),(317,3100),(320,2900),(323,2800),(326,2700),(329,2650),(332,2500),(335,2400),(338,2500),(341,2300),(344,2200),(347,2250),(350,2100),(353,2250),(356,2000),(359,2150),(362,2300),(364,2500)]

# ---------------- UV, Lauder 2004-2005 (J/m2), day 0 = 1 Oct 2004 ----------------
uv_lau_meas = [
(0,1900),(1,1300),(2,2800),(3,2000),(4,1300),(5,2100),(6,2700),(7,2350),(8,2900),(9,2100),(10,1200),(11,2900),(12,3000),(13,2300),(14,3300),(15,1500),(16,3700),(17,3900),(18,2300),(19,3800),(20,1000),(21,2900),(22,3500),(23,1100),(24,3900),(25,3800),(26,4000),(27,2300),(28,3700),(29,4050),
(31,3600),(32,3700),(33,750),(34,4200),(35,2850),(36,3900),(37,4300),(38,3000),(39,5000),(40,4150),(41,3100),(42,4300),(43,1950),(44,5100),(45,2600),(46,5300),(47,3350),(48,5200),(49,2400),(50,3300),(51,5000),(52,1650),(53,5600),(54,4400),(55,2300),(56,5700),(57,3300),(58,4600),(59,3200),(60,6000),
(61,2050),(62,4600),(63,5800),(64,3400),(65,2900),(66,5300),(67,6900),(68,2800),(69,6100),(70,4400),(71,5800),(72,3300),(73,6300),(74,2200),(75,5850),(76,4600),(77,2100),(78,6500),(79,4000),(80,6300),(81,1050),(82,6050),(83,4750),(84,6000),(85,2500),(86,6400),(87,4800),(88,3000),(89,5900),(90,6800),
(91,5350),(92,3800),(93,1600),(94,6100),(95,3650),(96,5300),(97,5900),(98,3500),(99,6200),(100,5250),(101,6600),(102,4700),(103,6500),(104,5400),(105,3800),(106,6300),(107,5900),(108,6500),(109,5350),(110,4050),(111,5700),(112,6450),(113,2400),(114,5600),(115,950),(116,3700),(117,5800),(118,2300),(119,3700),(120,4350),(121,1800),(122,4700),(123,1800),(124,3750),
(125,4500),(126,2800),(127,2100),(128,3600),(129,4000),(130,2800),(131,2700),(132,3850),(133,3300),(134,2300),(135,1700),(136,3600),(137,1500),(138,2350),(139,3000),(140,2900),(141,2300),(142,2200),(143,2400),
(165,500),(167,1300),(168,2500),(169,900),(170,1100),(171,1900),(172,800),(173,2200),(174,650),(175,1400),(176,1900),(177,2200),(178,1650),(179,1500),(180,850),(181,1300),(182,1700),(183,1100),(184,1500),(185,700),(186,1400),(187,1250),(188,950),(189,1200),(190,800),(191,1050),(192,650),(193,900),(194,1000),(195,550),
(196,800),(197,700),(198,900),(199,500),(200,600),(201,750),(202,400),(203,650),(204,550),(205,200),(206,700),(207,450),(208,600),(209,350),(210,500),(211,650),(212,300),(213,550),(214,400),(215,250),(216,500),(217,350),(218,450),(219,300),(220,550),(221,200),(222,400),(223,350),(224,450),(225,300),
(226,350),(228,250),(230,400),(232,300),(234,200),(236,350),(238,300),(240,250),(242,380),(244,300),(246,220),(248,350),(250,280),(252,330),(254,250),(256,380),(258,300),(260,230),(262,350),(264,280),(266,330),(268,260),(270,380),(272,300),(274,250),(276,350),(278,300),(280,380),(282,220),(284,330),(286,300),(288,400),(290,350),(292,250),(294,450),(296,300),(298,480),
(300,350),(302,550),(304,250),(305,600),(307,450),(308,200),(309,700),(310,550),(312,300),(313,800),(314,650),(316,250),(317,900),(318,750),(320,400),(321,1000),(322,850),(324,1100),(325,950),(326,500),(327,1200),(328,1050),(330,1250),(331,800),(332,1150),(334,1300),
(335,1000),(336,1400),(337,1200),(338,750),(339,1300),(340,1100),(341,1450),(342,1000),(343,1250),(344,1500),(345,900),(346,1300),(347,1100),(348,1550),(349,1200),(350,1000),(351,1300),(352,1250),(353,1100),(354,1600),(355,1000),(356,1700),(357,1250),(358,700),(359,1950),(360,2000),(361,600),(362,1800)]
uv_lau_clear = [
(0,1600),(2,2400),(4,2900),(7,2750),(10,3100),(13,2900),(16,3400),(19,3200),(22,3700),(25,3500),(28,4000),(31,3900),(34,4700),(36,5700),(38,5000),(41,5300),(44,4900),(47,5400),(50,5800),(52,6300),(54,5600),(57,6000),(60,5500),(63,6200),(66,5900),(69,6500),(72,6100),(75,7000),(77,6300),(80,6500),(83,6200),(86,6900),(89,6600),(92,7200),(95,6700),(98,7200),(101,6600),(104,7600),(106,6800),(109,7000),(112,6500),(115,6900),(118,6400),(121,6900),(124,6600),(127,6800),(130,6200),(133,5800),(135,5100),(138,5000),(141,4700),(144,4800),(147,4500),(150,4300),(153,3800),(156,3600),(159,3100),
(165,np.nan),
(173,2700),(176,2500),(179,2400),(182,2200),(185,2000),(188,1800),(191,1700),(194,1500),(197,1350),(200,1200),(203,1100),(206,1000),(209,900),(212,850),(215,750),(218,700),(221,650),(224,600),(227,550),(230,520),(233,480),(236,450),(240,420),(245,400),(250,380),(255,400),(260,380),(265,400),(270,390),(275,410),(280,400),(285,420),(290,430),(295,480),(300,550),(304,620),(308,700),(312,800),(316,900),(320,1000),(324,1150),(328,1300),(332,1450),(336,1500),(340,1600),(344,1550),(348,1700),(352,1800),(355,1900),(358,2200),(361,1900),(364,2000)]

# ---------------- labels ----------------
left_title = 'Total Global Radiation'
right_title = 'Daily erythemal (CIE) UV dose'
sites = ['Thessaloniki 1999', 'Thessaloniki 2002', 'Everglades 2005', 'Lauder 2004 - 2005']
glob_ticks = [0, 5e6, 1e7, 1.5e7, 2e7, 2.5e7, 3e7, 3.5e7]
glob_ticklabels = ['0,0', r'5,0x10$^6$', r'1,0x10$^7$', r'1,5x10$^7$', r'2,0x10$^7$',
                   r'2,5x10$^7$', r'3,0x10$^7$', r'3,5x10$^7$']
uv_ticks = [0, 1000, 2000, 3000, 4000, 5000, 6000, 7000]

# ---------------- figure ----------------
W, H = 587, 841
fig = plt.figure(figsize=(W / 100, H / 100), dpi=100)

rows_px = [(20, 201), (228, 408), (435, 617), (644, 825)]
left_px = (48, 289)
right_px = (338, 579)


def add_axes(xpx, ypx):
    x0, x1 = xpx
    y0, y1 = ypx
    return fig.add_axes([x0 / W, 1 - y1 / H, (x1 - x0) / W, (y1 - y0) / H])


def style_axes(ax, month_names, month_starts):
    ax.set_xlim(0, 365)
    centers = [(a + b) / 2 for a, b in zip(month_starts[:-1], month_starts[1:])]
    ax.set_xticks(centers)
    ax.set_xticklabels(month_names, fontsize=5.2, color='#333333')
    ax.xaxis.set_minor_locator(MultipleLocator(5))
    ax.tick_params(axis='x', which='major', length=0, pad=3)
    ax.tick_params(axis='both', which='minor', direction='in', length=1.8, width=0.5,
                   top=True, right=True, bottom=True, left=True, colors='#333333')
    ax.tick_params(axis='y', which='major', direction='in', length=3, width=0.6,
                   right=True, left=True, labelsize=4.6, labelcolor='#444444', pad=2)
    for s in ax.spines.values():
        s.set_linewidth(0.8)
        s.set_color('#444444')


def draw_panel(ax, meas, clear, kind, site, months, mstarts, clear_label, years=False):
    md = np.array([p[0] for p in meas], float)
    mv = np.array([p[1] for p in meas], float)
    cd = np.array([p[0] for p in clear], float)
    cv = np.array([p[1] for p in clear], float)
    if kind == 'glob':
        mv = mv * 1e6
        cv = cv * 1e6
    ax.scatter(md, mv, s=5, marker='s', color='black', linewidths=0, zorder=3)
    ax.plot(cd, cv, color='#e8191d', lw=1.1, zorder=4)
    style_axes(ax, months, mstarts)
    if kind == 'glob':
        ax.set_ylim(0, 3.5e7)
        ax.set_yticks(glob_ticks)
        ax.set_yticklabels(glob_ticklabels)
        ax.yaxis.set_minor_locator(MultipleLocator(1e6))
        ax.set_ylabel(r'daily global irradiation, Jm$^{-2}$', fontsize=6.2, color='#333333')
        ax.yaxis.set_label_coords(-0.133, 0.5)
        ax.text(0.0, 1.012, left_title, transform=ax.transAxes, ha='left', va='bottom',
                fontsize=6.0, color='#333333')
    else:
        ax.set_ylim(0, 7900)
        ax.set_yticks(uv_ticks)
        ax.yaxis.set_minor_locator(MultipleLocator(250))
        ax.set_ylabel(r'daily CIE UV dose, Jm$^{-2}$', fontsize=6.2, color='#333333')
        ax.yaxis.set_label_coords(-0.108, 0.5)
        ax.text(0.0, 1.012, right_title, transform=ax.transAxes, ha='left', va='bottom',
                fontsize=6.0, color='#333333')
    ax.text(1.0, 1.012, site, transform=ax.transAxes, ha='right', va='bottom',
            fontsize=6.0, color='#333333')
    handles = [Line2D([], [], marker='s', color='black', ls='none', markersize=3.0),
               Line2D([], [], color='#e8191d', lw=1.1)]
    leg = ax.legend(handles, ['measured', clear_label], loc='upper right', fontsize=5.6,
                    frameon=True, fancybox=False, framealpha=1, edgecolor='#444444',
                    borderpad=0.25, handlelength=3.0, handletextpad=0.5,
                    labelspacing=0.12, borderaxespad=0.45)
    leg.get_frame().set_linewidth(0.7)
    for t in leg.get_texts():
        t.set_color('#333333')
    if years:
        ymax = ax.get_ylim()[1]
        ax.text(3, ymax * 0.025, '2004', fontsize=6.5, color='#333333', ha='left', va='bottom')
        ax.text(93, ymax * 0.025, '2005', fontsize=6.5, color='#333333', ha='left', va='bottom')


glob_sets = [(glob_ths99_meas, glob_ths99_clear), (glob_ths02_meas, glob_ths02_clear),
             (glob_evg05_meas, glob_evg05_clear), (glob_lau_meas, glob_lau_clear)]
uv_sets = [(uv_ths99_meas, uv_ths99_clear), (uv_ths02_meas, uv_ths02_clear),
           (uv_evg05_meas, uv_evg05_clear), (uv_lau_meas, uv_lau_clear)]

for i, ypx in enumerate(rows_px):
    lauder = (i == 3)
    months = months_lauder if lauder else months_cal
    mstarts = month_starts_lauder if lauder else month_starts_cal
    axl = add_axes(left_px, ypx)
    draw_panel(axl, glob_sets[i][0], glob_sets[i][1], 'glob', sites[i], months, mstarts,
               'ESRA clear-sky', years=lauder)
    axr = add_axes(right_px, ypx)
    draw_panel(axr, uv_sets[i][0], uv_sets[i][1], 'uv', sites[i], months, mstarts,
               'predicted clear-sky', years=lauder)

fig.savefig('out.png', dpi=100)
